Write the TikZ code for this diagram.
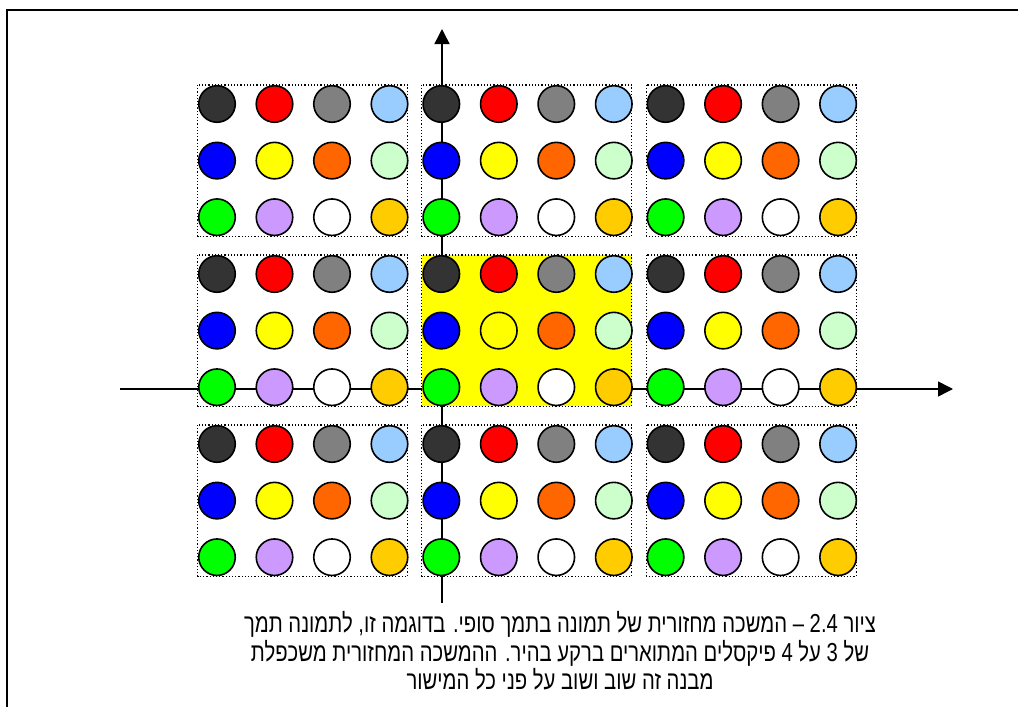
\documentclass[tikz,border=0pt]{standalone}
\usepackage{fontspec}
\newfontfamily\hebfont[Script=Hebrew,FakeStretch=0.78]{Liberation Sans}
\TeXXeTstate=1
\usetikzlibrary{arrows.meta}
\definecolor{cdark}{HTML}{333333}
\definecolor{cred}{HTML}{FF0000}
\definecolor{cgray}{HTML}{808080}
\definecolor{clblue}{HTML}{99CCFF}
\definecolor{cblue}{HTML}{0000FF}
\definecolor{cyellow}{HTML}{FFFF00}
\definecolor{corange}{HTML}{FF6600}
\definecolor{clgreen}{HTML}{CCFFCC}
\definecolor{cgreen}{HTML}{00FF00}
\definecolor{clav}{HTML}{CC99FF}
\definecolor{cwhite}{HTML}{FFFFFF}
\definecolor{cgold}{HTML}{FFCC00}
\begin{document}
\begin{tikzpicture}[x=1pt,y=-1pt,
  frameline/.style={line width=1.7pt,black},
  axis/.style={line width=1.5pt,black,-{Triangle[length=15pt,width=15pt]}},
  blockbox/.style={draw=black,dotted,line width=1.2pt},
  pix/.style={circle,draw=black,line width=1.6pt,minimum size=36.5pt,inner sep=0pt},
  caption/.style={align=center,font=\hebfont\fontsize{26}{28.5}\selectfont,inner sep=0pt}]
\useasboundingbox (0,0) rectangle (1018,707);
% frame (only top and left edges are inside the picture)
\draw[frameline] (7,707) -- (7,10) -- (1018,10);
% axes
\coordinate (xl) at (120,389);
\coordinate (xr) at (953,389);
\coordinate (yb) at (442,603);
\coordinate (yt) at (442,29);
\draw[axis] (xl) -- (xr);
\draw[axis] (yb) -- (yt);
% block boxes
\foreach \bx in {0,1,2}{
  \foreach \by in {0,1,2}{
    \pgfmathsetmacro\xo{217+224.3*\bx}
    \pgfmathsetmacro\yo{104+170*\by}
    \draw[blockbox] (\xo-19.5,\yo-19) rectangle (\xo+190.5,\yo+132.2);
  }
}
% highlighted base tile
\fill[cyellow] (421.8,255) rectangle (631.8,406.2);
\draw[blockbox] (421.8,255) rectangle (631.8,406.2);
% pixels
\foreach \bx in {0,1,2}{
  \foreach \by in {0,1,2}{
    \foreach \r/\c/\col in {0/0/cdark,0/1/cred,0/2/cgray,0/3/clblue,
                            1/0/cblue,1/1/cyellow,1/2/corange,1/3/clgreen,
                            2/0/cgreen,2/1/clav,2/2/cwhite,2/3/cgold}{
      \pgfmathsetmacro\px{217+224.3*\bx+57.5*\c}
      \pgfmathsetmacro\py{104+170*\by+56.6*\r}
      \node[pix,fill=\col] (p\bx\by\r\c) at (\px,\py) {};
    }
  }
}
% caption
\node[caption] (cap) at (560,651) {%
\beginR ציור 2.4 – המשכה מחזורית של תמונה בתמך סופי. בדוגמה זו, לתמונה תמך\endR\\
\beginR של 3 על 4 פיקסלים המתוארים ברקע בהיר. ההמשכה המחזורית משכפלת\endR\\
\beginR מבנה זה שוב ושוב על פני כל המישור\endR};
\end{tikzpicture}
\end{document}
